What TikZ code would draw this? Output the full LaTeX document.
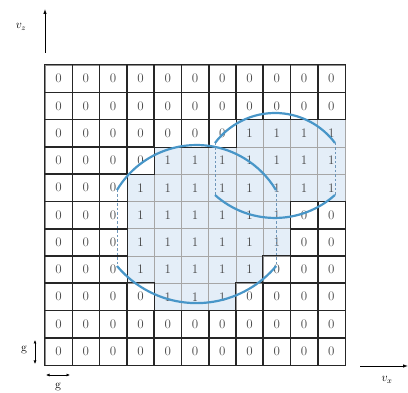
\documentclass[tikz,border=0pt]{standalone}
\usetikzlibrary{arrows.meta}
\definecolor{cellfill}{RGB}{228,238,248}
\definecolor{arccol}{RGB}{72,150,200}
\definecolor{dashcol}{RGB}{110,150,185}
\begin{document}
\begin{tikzpicture}[x=1pt,y=1pt,
  cellbase/.style={minimum size=27.27pt,inner sep=0pt,text=black!72,font=\fontsize{13}{15}\selectfont},
  cell0/.style={cellbase,fill=white,draw=black!45,line width=0.6pt},
  cell1/.style={cellbase,fill=cellfill,draw=black!35,line width=0.6pt},
  zeroline/.style={draw=black!85,line width=0.8pt},
  arcline/.style={draw=arccol,line width=2.2pt},
  dashline/.style={draw=dashcol,line width=0.6pt,dash pattern=on 2.5pt off 2pt},
  axis/.style={draw=black,line width=0.8pt,-{Latex[length=5pt,width=3.5pt]}},
  garrow/.style={draw=black,line width=0.6pt,{Latex[length=3.5pt,width=3pt]}-{Latex[length=3.5pt,width=3pt]}}]
\useasboundingbox (0,0) rectangle (408,393);
\def\cs{27.2727}
\foreach \row [count=\r from 0] in {
  {0,0,0,0,0,0,0,0,0,0,0},
  {0,0,0,0,0,0,0,0,0,0,0},
  {0,0,0,0,0,0,0,1,1,1,1},
  {0,0,0,0,1,1,1,1,1,1,1},
  {0,0,0,1,1,1,1,1,1,1,1},
  {0,0,0,1,1,1,1,1,1,0,0},
  {0,0,0,1,1,1,1,1,1,0,0},
  {0,0,0,1,1,1,1,1,0,0,0},
  {0,0,0,0,1,1,1,0,0,0,0},
  {0,0,0,0,0,0,0,0,0,0,0},
  {0,0,0,0,0,0,0,0,0,0,0}}{
  \foreach \v [count=\c from 0] in \row {
    \node[cell\v] (c-\r-\c) at ({45+(\c+0.5)*\cs},{328-(\r+0.5)*\cs}) {\v};
  }
}
\foreach \row [count=\r from 0] in {
  {0,0,0,0,0,0,0,0,0,0,0},
  {0,0,0,0,0,0,0,0,0,0,0},
  {0,0,0,0,0,0,0,1,1,1,1},
  {0,0,0,0,1,1,1,1,1,1,1},
  {0,0,0,1,1,1,1,1,1,1,1},
  {0,0,0,1,1,1,1,1,1,0,0},
  {0,0,0,1,1,1,1,1,1,0,0},
  {0,0,0,1,1,1,1,1,0,0,0},
  {0,0,0,0,1,1,1,0,0,0,0},
  {0,0,0,0,0,0,0,0,0,0,0},
  {0,0,0,0,0,0,0,0,0,0,0}}{
  \foreach \v [count=\c from 0] in \row {
    \ifnum\v=0
      \draw[zeroline] (c-\r-\c.south west) rectangle (c-\r-\c.north east);
    \fi
  }
}
% left shape
\coordinate (LTl) at (117,203);
\coordinate (LTr) at (276,203);
\coordinate (LBl) at (117,127);
\coordinate (LBr) at (276,127);
\draw[dashline] (LTl) -- (LBl);
\draw[dashline] (LTr) -- (LBr);
\draw[arcline] (LTl) arc[start angle=149,end angle=31,radius=92.7];
\draw[arcline] (LBl) arc[start angle=220,end angle=320,radius=103.9];
% right shape
\coordinate (RTl) at (215,250);
\coordinate (RTr) at (335,250);
\coordinate (RBl) at (215,198);
\coordinate (RBr) at (335,198);
\draw[dashline] (RTl) -- (RBl);
\draw[dashline] (RTr) -- (RBr);
\draw[arcline] (RTl) arc[start angle=143.13,end angle=36.87,radius=75];
\draw[arcline] (RBl) arc[start angle=228.1,end angle=311.9,radius=89.8];
% axes
\coordinate (vz0) at (45,340);
\coordinate (vz1) at (45,384);
\draw[axis] (vz0) -- (vz1);
\node[font=\fontsize{12}{14}\selectfont] (vzl) at (21,366) {$v_z$};
\coordinate (vx0) at (360,27);
\coordinate (vx1) at (408,27);
\draw[axis] (vx0) -- (vx1);
\node[font=\fontsize{12}{14}\selectfont] (vxl) at (387,13) {$v_x$};
% g markers
\coordinate (gv0) at (35,53);
\coordinate (gv1) at (35,29);
\draw[garrow] (gv0) -- (gv1);
\node[font=\fontsize{12}{14}\selectfont] (gvl) at (24,43) {g};
\coordinate (gh0) at (46,18);
\coordinate (gh1) at (70,18);
\draw[garrow] (gh0) -- (gh1);
\node[font=\fontsize{12}{14}\selectfont] (ghl) at (58,6) {g};
\end{tikzpicture}
\end{document}
